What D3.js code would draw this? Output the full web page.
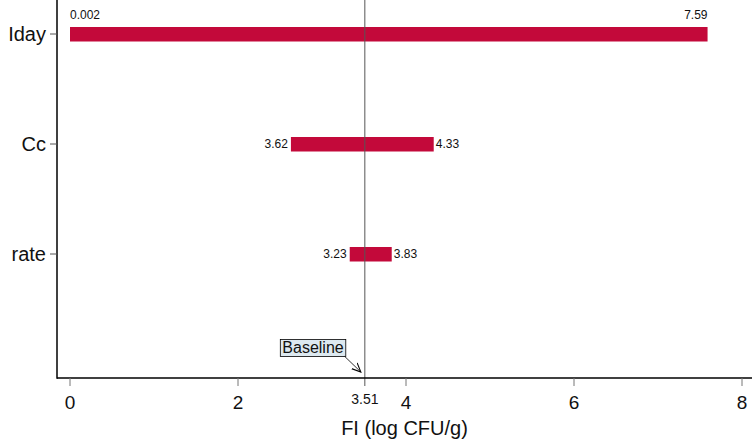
<!DOCTYPE html>
<html lang="en">
<head>
    <meta charset="UTF-8">
    <title>Tornado chart FI</title>
    <script src="https://cdn.jsdelivr.net/npm/d3@7/dist/d3.min.js"></script>
    <style>
        body { margin: 0; background: #fff; }
        svg text { font-family: "Liberation Sans", Arial, Helvetica, sans-serif; fill: #111; }
    </style>
</head>
<body>
    <div id="chart"></div>
    <script>
        // parameters and their bar ends
        const params = ["Iday", "Cc", "rate"];
        const barLow = [0, 2.63, 3.33];
        const barHigh = [7.59, 4.33, 3.83];
        const lowLabels = ["0.002", "3.62", "3.23"];
        const highLabels = ["7.59", "4.33", "3.83"];
        const baseline = 3.51;
        const xTicks = [0, 2, 4, 6, 8];

        const width = 752, height = 441;
        const margin = { top: 0, right: 0, bottom: 63, left: 57 };

        const svg = d3.select("#chart").append("svg")
            .attr("width", width)
            .attr("height", height)
            .attr("font-family", "Liberation Sans, Arial, sans-serif");

        const x = d3.scaleLinear().domain([0, 8]).range([70, 742]);
        // an empty slot is left under the last parameter
        const y = d3.scalePoint().domain(params.concat([""])).range([34, 364]);
        const axisY = height - margin.bottom;

        // bars
        svg.append("g")
            .selectAll("rect")
            .data(params)
            .enter().append("rect")
            .attr("x", (d, i) => x(barLow[i]))
            .attr("y", d => y(d) - 7)
            .attr("width", (d, i) => x(barHigh[i]) - x(barLow[i]))
            .attr("height", 14.5)
            .attr("fill", "#c3093a");

        // bar labels: above the bar for the first row, beside it otherwise
        const lab = svg.append("g").attr("font-size", 12);
        params.forEach((p, i) => {
            if (i === 0) {
                lab.append("text").attr("x", x(barLow[i])).attr("y", y(p) - 15)
                    .attr("text-anchor", "start").text(lowLabels[i]);
                lab.append("text").attr("x", x(barHigh[i])).attr("y", y(p) - 15)
                    .attr("text-anchor", "end").text(highLabels[i]);
            } else {
                lab.append("text").attr("x", x(barLow[i]) - 3).attr("y", y(p)).attr("dy", "0.3em")
                    .attr("text-anchor", "end").text(lowLabels[i]);
                lab.append("text").attr("x", x(barHigh[i]) + 2).attr("y", y(p)).attr("dy", "0.35em")
                    .attr("text-anchor", "start").text(highLabels[i]);
            }
        });

        // baseline line
        svg.append("line")
            .attr("x1", x(baseline)).attr("x2", x(baseline))
            .attr("y1", 0).attr("y2", axisY + 8)
            .attr("stroke", "#555").attr("stroke-width", 1);

        // x axis
        const xAxis = svg.append("g");
        xAxis.append("line")
            .attr("x1", margin.left).attr("x2", width)
            .attr("y1", axisY).attr("y2", axisY)
            .attr("stroke", "#000").attr("stroke-width", 1.5);
        xAxis.selectAll(".tick")
            .data(xTicks)
            .enter().append("line")
            .attr("x1", d => x(d)).attr("x2", d => x(d))
            .attr("y1", axisY).attr("y2", axisY + 8)
            .attr("stroke", "#777");
        xAxis.selectAll(".tl")
            .data(xTicks)
            .enter().append("text")
            .attr("x", d => x(d)).attr("y", axisY + 31)
            .attr("text-anchor", "middle").attr("font-size", 19)
            .text(d => d);
        xAxis.append("text")
            .attr("x", x(baseline)).attr("y", axisY + 26)
            .attr("text-anchor", "middle").attr("font-size", 14)
            .text(baseline.toFixed(2));
        svg.append("text")
            .attr("x", (margin.left + width) / 2).attr("y", 435)
            .attr("text-anchor", "middle").attr("font-size", 20)
            .text("FI (log CFU/g)");

        // y axis
        const yAxis = svg.append("g");
        yAxis.append("line")
            .attr("x1", margin.left).attr("x2", margin.left)
            .attr("y1", 0).attr("y2", axisY + 0.75)
            .attr("stroke", "#000").attr("stroke-width", 1.5);
        yAxis.selectAll(".tick")
            .data(params)
            .enter().append("line")
            .attr("x1", margin.left - 7).attr("x2", margin.left)
            .attr("y1", d => y(d)).attr("y2", d => y(d))
            .attr("stroke", "#555");
        yAxis.selectAll(".tl")
            .data(params)
            .enter().append("text")
            .attr("x", margin.left - 11).attr("y", d => y(d)).attr("dy", "0.35em")
            .attr("text-anchor", "end").attr("font-size", 20)
            .text(d => d);

        // Baseline annotation with arrow
        const defs = svg.append("defs");
        defs.append("marker")
            .attr("id", "arr").attr("viewBox", "0 0 10 10")
            .attr("refX", 9).attr("refY", 5)
            .attr("markerWidth", 10).attr("markerHeight", 10)
            .attr("markerUnits", "userSpaceOnUse")
            .attr("orient", "auto")
            .append("path").attr("d", "M0,1 L9,5 L0,9")
            .attr("fill", "none").attr("stroke", "#000").attr("stroke-width", 1.1);

        const ann = svg.append("g");
        const annText = ann.append("text")
            .attr("x", 313).attr("y", 353)
            .attr("text-anchor", "middle").attr("font-size", 16)
            .text("Baseline");
        const bb = annText.node().getBBox();
        ann.insert("rect", "text")
            .attr("x", bb.x - 2).attr("y", bb.y + 0.5)
            .attr("width", bb.width + 4).attr("height", bb.height)
            .attr("fill", "#dde9f0").attr("stroke", "#000").attr("stroke-width", 0.8);
        ann.append("line")
            .attr("x1", bb.x + bb.width + 1).attr("y1", bb.y + bb.height + 0.5)
            .attr("x2", x(baseline) - 4).attr("y2", axisY - 6)
            .attr("stroke", "#000").attr("stroke-width", 0.8)
            .attr("marker-end", "url(#arr)");
    </script>
</body>
</html>
